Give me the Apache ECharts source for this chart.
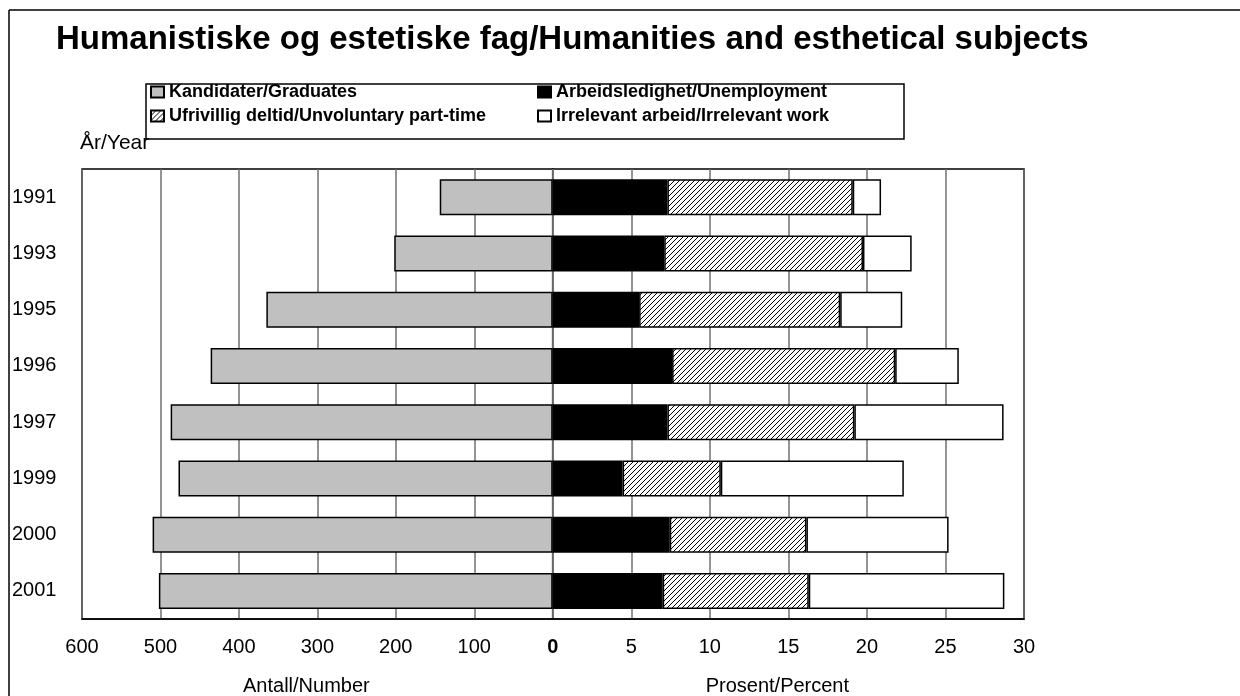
<!DOCTYPE html>
<html>
<head>
<meta charset="utf-8">
<script src="https://cdn.jsdelivr.net/npm/echarts@6/dist/echarts.min.js"></script>
<style>
html, body { margin: 0; padding: 0; background: #fff; }
#main { width: 1240px; height: 696px; }
</style>
</head>
<body>
<div id="main"></div>
<script>
var years = ['1991', '1993', '1995', '1996', '1997', '1999', '2000', '2001'];
// Kandidater/Graduates (antall)
var graduates = [144, 202, 365, 436, 487, 477, 510, 502];
// prosent
var unemployment = [7.3, 7.1, 5.5, 7.6, 7.3, 4.45, 7.45, 7.0];
var partTime = [11.8, 12.65, 12.8, 14.2, 11.9, 6.25, 8.7, 9.3];
var irrelevant = [1.8, 3.1, 3.95, 4.05, 9.5, 11.65, 9.05, 12.45];

var numberTicks = { min: 0, max: 600, interval: 100 };
var percentTicks = { min: 0, max: 30, interval: 5 };

var font = "'Liberation Sans', Arial, sans-serif";

// hatch pattern for "ufrivillig deltid"
function makeHatch() {
	var size = 5;
	var c = document.createElement('canvas');
	c.width = size; c.height = size;
	var ctx = c.getContext('2d');
	ctx.fillStyle = '#fff';
	ctx.fillRect(0, 0, size, size);
	ctx.strokeStyle = '#000';
	ctx.lineWidth = 1;
	ctx.beginPath();
	ctx.moveTo(0, size); ctx.lineTo(size, 0);
	ctx.moveTo(-1, 1); ctx.lineTo(1, -1);
	ctx.moveTo(size - 1, size + 1); ctx.lineTo(size + 1, size - 1);
	ctx.stroke();
	return { image: c, repeat: 'repeat' };
}
var hatch = makeHatch();

var chart = echarts.init(document.getElementById('main'));

var barStyle = function (color) {
	return { color: color, borderColor: '#000', borderWidth: 1.5 };
};

var legendText = { fontFamily: font, fontSize: 18, fontWeight: 'bold', color: '#000' };

var option = {
	animation: false,
	backgroundColor: '#fff',
	textStyle: { fontFamily: font, color: '#000' },
	title: {
		text: 'Humanistiske og estetiske fag/Humanities and esthetical subjects',
		left: 56,
		top: 23,
		padding: 0,
		textStyle: { fontFamily: font, fontSize: 33, fontWeight: 'bold', color: '#000' }
	},
	legend: [
		{
			orient: 'vertical',
			left: 150,
			top: 83,
			padding: 0,
			itemGap: 6,
			itemWidth: 13,
			itemHeight: 11,
			icon: 'rect',
			data: ['Kandidater/Graduates', 'Ufrivillig deltid/Unvoluntary part-time'],
			textStyle: legendText
		},
		{
			orient: 'vertical',
			left: 537,
			top: 83,
			padding: 0,
			itemGap: 6,
			itemWidth: 13,
			itemHeight: 11,
			icon: 'rect',
			data: ['Arbeidsledighet/Unemployment', 'Irrelevant arbeid/Irrelevant work'],
			textStyle: legendText
		}
	],
	graphic: [
		{ type: 'line', shape: { x1: 9, y1: 10, x2: 1240, y2: 10 }, style: { stroke: '#000', lineWidth: 1.5 } },
		{ type: 'line', shape: { x1: 9, y1: 10, x2: 9, y2: 696 }, style: { stroke: '#000', lineWidth: 1.5 } },
		{ type: 'rect', shape: { x: 146, y: 84, width: 758, height: 55 }, style: { fill: 'none', stroke: '#000', lineWidth: 1.5 } },
		{ type: 'text', left: 80, top: 133, style: { text: 'År/Year', fontFamily: font, fontSize: 21, fill: '#000' } }
	],
	grid: [
		{ left: 82, width: 470.7, top: 169, height: 450, outerBoundsMode: 'none', show: true, borderColor: '#000', borderWidth: 1.5, backgroundColor: '#fff' },
		{ left: 552.7, width: 471.3, top: 169, height: 450, outerBoundsMode: 'none', show: true, borderColor: '#000', borderWidth: 1.5, backgroundColor: '#fff' }
	],
	xAxis: [
		{
			type: 'value',
			gridIndex: 0,
			inverse: true,
			min: numberTicks.min,
			max: numberTicks.max,
			interval: numberTicks.interval,
			name: 'Antall/Number',
			nameLocation: 'middle',
			nameGap: 57,
			nameTextStyle: { fontFamily: font, fontSize: 20, color: '#000', padding: [0, 22, 0, 0] },
			axisLine: { show: true, lineStyle: { color: '#000', width: 1.5 } },
			axisTick: { show: false },
			splitLine: { show: true, lineStyle: { color: '#707070', width: 1.5 } },
			axisLabel: {
				margin: 18,
				fontSize: 20,
				color: '#000',
				fontFamily: font,
				formatter: function (v) { return v === 0 ? '' : v; }
			}
		},
		{
			type: 'value',
			gridIndex: 1,
			min: percentTicks.min,
			max: percentTicks.max,
			interval: percentTicks.interval,
			name: 'Prosent/Percent',
			nameLocation: 'middle',
			nameGap: 57,
			nameTextStyle: { fontFamily: font, fontSize: 20, color: '#000', padding: [0, 22, 0, 0] },
			axisLine: { show: true, lineStyle: { color: '#000', width: 1.5 } },
			axisTick: { show: false },
			splitLine: { show: true, lineStyle: { color: '#707070', width: 1.5 } },
			axisLabel: {
				margin: 18,
				fontSize: 20,
				color: '#000',
				fontFamily: font,
				formatter: function (v) { return v === 0 ? '{b|0}' : v; },
				rich: { b: { fontWeight: 'bold', fontSize: 20, fontFamily: font, color: '#000' } }
			}
		}
	],
	yAxis: [
		{
			type: 'category',
			gridIndex: 0,
			inverse: true,
			data: years,
			axisLine: { show: false },
			axisTick: { show: false },
			axisLabel: { align: 'left', margin: 70, fontSize: 20, color: '#000', fontFamily: font }
		},
		{
			type: 'category',
			gridIndex: 1,
			inverse: true,
			data: years,
			show: false
		}
	],
	series: [
		{
			name: 'Kandidater/Graduates',
			type: 'bar',
			xAxisIndex: 0,
			yAxisIndex: 0,
			barWidth: 36,
			itemStyle: barStyle('#c0c0c0'),
			data: graduates
		},
		{
			name: 'Arbeidsledighet/Unemployment',
			type: 'bar',
			stack: 'pct',
			xAxisIndex: 1,
			yAxisIndex: 1,
			barWidth: 36,
			itemStyle: barStyle('#000'),
			data: unemployment
		},
		{
			name: 'Ufrivillig deltid/Unvoluntary part-time',
			type: 'bar',
			stack: 'pct',
			xAxisIndex: 1,
			yAxisIndex: 1,
			barWidth: 36,
			itemStyle: barStyle(hatch),
			data: partTime
		},
		{
			name: 'Irrelevant arbeid/Irrelevant work',
			type: 'bar',
			stack: 'pct',
			xAxisIndex: 1,
			yAxisIndex: 1,
			barWidth: 36,
			itemStyle: barStyle('#fff'),
			data: irrelevant
		}
	]
};

chart.setOption(option);
window.addEventListener('resize', chart.resize);
</script>
</body>
</html>
